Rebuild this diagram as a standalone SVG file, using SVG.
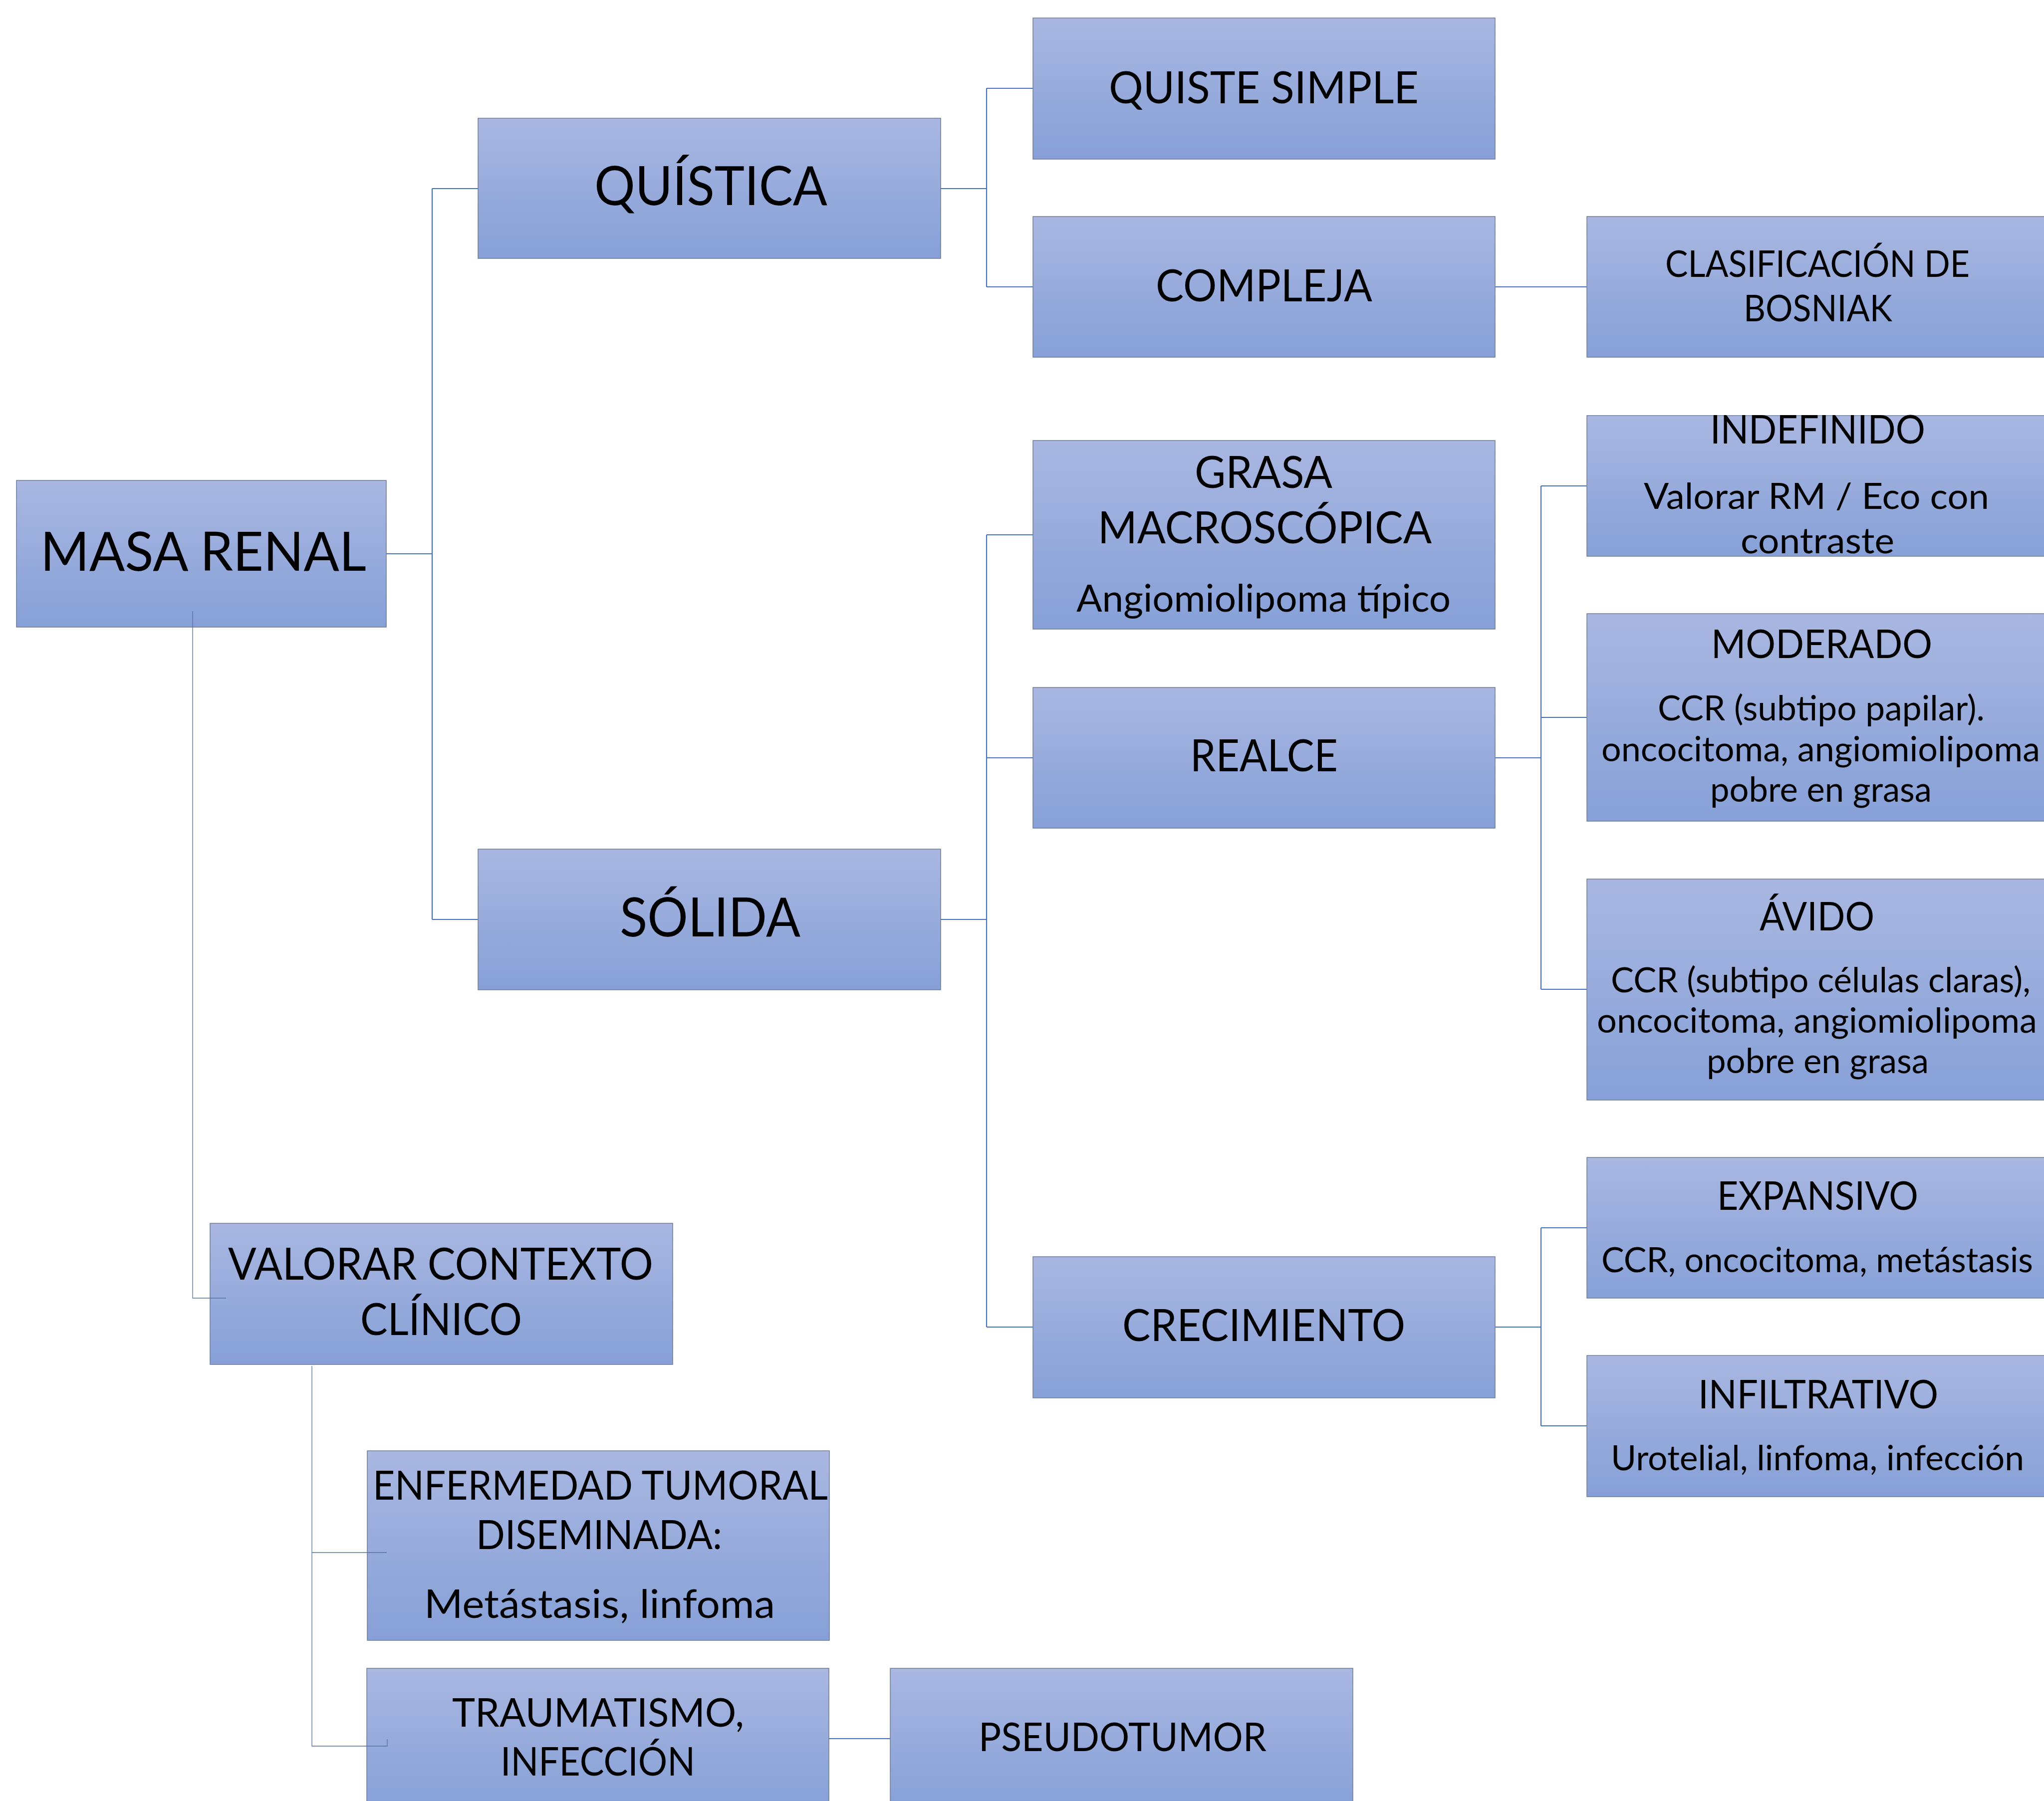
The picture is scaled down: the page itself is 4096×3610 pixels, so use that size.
<svg xmlns="http://www.w3.org/2000/svg" width="4096" height="3610" viewBox="0 0 4096 3610">
<defs>
<linearGradient id="g" x1="0" y1="0" x2="0" y2="1">
<stop offset="0" stop-color="#A9B7E1"/>
<stop offset="1" stop-color="#86A0D7"/>
</linearGradient>
<style>
.box{fill:url(#g);stroke:#6f7c98;stroke-width:1.5}
text{font-family:Lato,"Open Sans","Liberation Sans",sans-serif;fill:#000}
.t1{font-size:109px}
.t2{font-size:89px}
.t3{font-size:79px}
.t4{font-size:74px}
.d{font-size:70px}
.c{fill:none;stroke:#4472C4;stroke-width:2.2}
.thin{fill:none;stroke:#5672a3;stroke-width:1.3}
</style>
</defs>
<rect width="4096" height="3610" fill="#ffffff"/>
<g id="connectors">
<path class="c" d="M774,1110H866M866,378V1843M866,378H958M866,1843H958"/>
<path class="c" d="M1885,378H1977M1977,177V575M1977,177H2070M1977,575H2070"/>
<path class="c" d="M2996,575H3180"/>
<path class="c" d="M1885,1843H1977M1977,1072V2660M1977,1072H2070M1977,1519H2070M1977,2660H2070"/>
<path class="c" d="M2996,1519H3088M3088,974V1983M3088,974H3180M3088,1438H3180M3088,1983H3180"/>
<path class="c" d="M2996,2660H3088M3088,2461V2858M3088,2461H3180M3088,2858H3180"/>
<path class="c" d="M1661,3485H1784"/>
</g>
<g id="n-masa"><rect class="box" x="33" y="963" width="741" height="294"/><text class="t1" x="81" y="1144" textLength="653" lengthAdjust="spacingAndGlyphs">MASA RENAL</text></g>
<g id="n-quistica"><rect class="box" x="958" y="237" width="927" height="281"/><text class="t1" x="1191" y="411" textLength="467" lengthAdjust="spacingAndGlyphs">QUÍSTICA</text></g>
<g id="n-solida"><rect class="box" x="958" y="1702" width="927" height="282"/><text class="t1" x="1242" y="1877" textLength="362" lengthAdjust="spacingAndGlyphs">SÓLIDA</text></g>
<g id="n-quiste"><rect class="box" x="2070" y="36" width="926" height="283"/><text class="t2" x="2222" y="207" textLength="621" lengthAdjust="spacingAndGlyphs">QUISTE SIMPLE</text></g>
<g id="n-compleja"><rect class="box" x="2070" y="434" width="926" height="282"/><text class="t2" x="2316" y="604" textLength="434" lengthAdjust="spacingAndGlyphs">COMPLEJA</text></g>
<g id="n-bosniak"><rect class="box" x="3180" y="434" width="926" height="282"/><text class="t4" x="3337" y="555" textLength="610" lengthAdjust="spacingAndGlyphs">CLASIFICACIÓN DE</text><text class="t4" x="3494" y="644" textLength="298" lengthAdjust="spacingAndGlyphs">BOSNIAK</text></g>
<g id="n-grasa"><rect class="box" x="2070" y="883" width="926" height="378"/><text class="t2" x="2394" y="978" textLength="276" lengthAdjust="spacingAndGlyphs">GRASA</text><text class="t2" x="2200" y="1089" textLength="669" lengthAdjust="spacingAndGlyphs">MACROSCÓPICA</text><text class="d" style="font-size:75px" x="2157" y="1226" textLength="750" lengthAdjust="spacingAndGlyphs">Angiomiolipoma típico</text></g>
<g id="n-realce"><rect class="box" x="2070" y="1378" width="926" height="282"/><text class="t2" x="2385" y="1546" textLength="296" lengthAdjust="spacingAndGlyphs">REALCE</text></g>
<g id="n-crecimiento"><rect class="box" x="2070" y="2519" width="926" height="283"/><text class="t2" x="2249" y="2688" textLength="567" lengthAdjust="spacingAndGlyphs">CRECIMIENTO</text></g>
<g id="n-indefinido"><rect class="box" x="3180" y="833" width="926" height="282"/><text class="t3" x="3427" y="889" textLength="431" lengthAdjust="spacingAndGlyphs">INDEFINIDO</text><text class="d" style="font-size:72px" x="3294" y="1020" textLength="692" lengthAdjust="spacingAndGlyphs">Valorar RM / Eco con</text><text class="d" style="font-size:72px" x="3488" y="1109" textLength="308" lengthAdjust="spacingAndGlyphs">contraste</text></g>
<g id="n-moderado"><rect class="box" x="3180" y="1230" width="926" height="416"/><text class="t3" x="3429" y="1319" textLength="443" lengthAdjust="spacingAndGlyphs">MODERADO</text><text class="d" x="3322" y="1444" textLength="655" lengthAdjust="spacingAndGlyphs">CCR (subtipo papilar).</text><text class="d" x="3209" y="1526" textLength="879" lengthAdjust="spacingAndGlyphs">oncocitoma, angiomiolipoma</text><text class="d" x="3427" y="1607" textLength="444" lengthAdjust="spacingAndGlyphs">pobre en grasa</text></g>
<g id="n-avido"><rect class="box" x="3180" y="1762" width="926" height="443"/><text class="t3" x="3526" y="1865" textLength="230" lengthAdjust="spacingAndGlyphs">ÁVIDO</text><text class="d" x="3228" y="1989" textLength="841" lengthAdjust="spacingAndGlyphs">CCR (subtipo células claras),</text><text class="d" x="3200" y="2070" textLength="882" lengthAdjust="spacingAndGlyphs">oncocitoma, angiomiolipoma</text><text class="d" x="3420" y="2151" textLength="445" lengthAdjust="spacingAndGlyphs">pobre en grasa</text></g>
<g id="n-expansivo"><rect class="box" x="3180" y="2320" width="926" height="282"/><text class="t3" x="3441" y="2425" textLength="403" lengthAdjust="spacingAndGlyphs">EXPANSIVO</text><text class="d" x="3209" y="2550" textLength="865" lengthAdjust="spacingAndGlyphs">CCR, oncocitoma, metástasis</text></g>
<g id="n-infiltrativo"><rect class="box" x="3180" y="2717" width="926" height="283"/><text class="t3" x="3403" y="2823" textLength="481" lengthAdjust="spacingAndGlyphs">INFILTRATIVO</text><text class="d" x="3228" y="2947" textLength="828" lengthAdjust="spacingAndGlyphs">Urotelial, linfoma, infección</text></g>
<g id="n-valorar"><rect class="box" x="421" y="2452" width="927" height="283"/><text class="t2" x="457" y="2565" textLength="852" lengthAdjust="spacingAndGlyphs">VALORAR CONTEXTO</text><text class="t2" x="722" y="2676" textLength="324" lengthAdjust="spacingAndGlyphs">CLÍNICO</text></g>
<g id="n-enfermedad"><rect class="box" x="736" y="2908" width="926" height="380"/><text class="t3" style="font-size:82px" x="747" y="3006" textLength="912" lengthAdjust="spacingAndGlyphs">ENFERMEDAD TUMORAL</text><text class="t3" style="font-size:82px" x="954" y="3105" textLength="493" lengthAdjust="spacingAndGlyphs">DISEMINADA:</text><text class="t3" x="850" y="3243" textLength="703" lengthAdjust="spacingAndGlyphs">Metástasis, linfoma</text></g>
<g id="n-traumatismo"><rect class="box" x="735" y="3344" width="926" height="283"/><text class="t3" x="906" y="3461" textLength="585" lengthAdjust="spacingAndGlyphs">TRAUMATISMO,</text><text class="t3" x="1003" y="3559" textLength="390" lengthAdjust="spacingAndGlyphs">INFECCIÓN</text></g>
<g id="n-pseudotumor"><rect class="box" x="1784" y="3344" width="927" height="283"/><text class="t3" x="1961" y="3510" textLength="577" lengthAdjust="spacingAndGlyphs">PSEUDOTUMOR</text></g>
<g id="thin-connectors">
<path class="thin" d="M386,1225V2602H453"/>
<path class="thin" d="M625,2738V3500H776V3486M625,3112H775"/>
</g>
</svg>
